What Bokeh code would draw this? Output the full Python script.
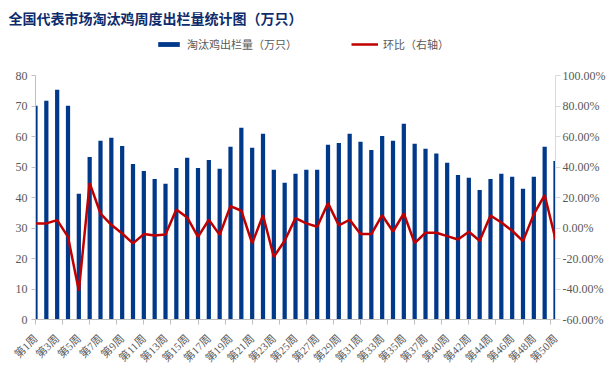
import numpy as np
from bokeh.plotting import figure
from bokeh.models import (Range1d, LinearAxis, FixedTicker, NumeralTickFormatter,
                          Legend, LegendItem, Title, ColumnDataSource)
from bokeh.embed import file_html
from bokeh.resources import INLINE

# ---- data ----
weeks = [f"第{i}周" for i in range(1, 39)] + [f"第{i}周" for i in range(40, 51)]
supply = [70.1, 71.7, 75.3, 70.1, 41.2, 53.3, 58.6, 59.6, 56.9, 51.0,
          48.7, 46.1, 44.5, 49.7, 53.0, 49.7, 52.3, 49.4, 56.6, 62.9,
          56.3, 60.9, 49.1, 44.8, 47.8, 49.1, 49.1, 57.3, 57.9, 60.9,
          58.3, 55.6, 60.2, 58.6, 64.2, 57.6, 56.0, 54.4, 51.4, 47.4,
          46.5, 42.5, 46.1, 47.8, 46.8, 42.9, 46.8, 56.6, 52.0]
ratio_pct = [3.0, 3.0, 5.2, -5.8, -41.2, 29.4, 9.5, 2.1, -3.6, -10.1,
             -4.0, -4.9, -4.2, 12.2, 6.9, -5.8, 5.4, -4.5, 14.4, 11.3,
             -10.1, 8.4, -18.9, -8.4, 6.5, 3.0, 0.8, 16.3, 1.7, 5.4,
             -4.0, -4.0, 8.4, -2.3, 9.5, -9.9, -3.1, -3.1, -5.3, -7.5,
             -2.5, -8.4, 8.2, 3.6, -1.8, -8.6, 9.1, 21.6, -7.3]
title_text = "全国代表市场淘汰鸡周度出栏量统计图（万只）"
bar_label = "淘汰鸡出栏量（万只）"
line_label = "环比（右轴）"

n = len(weeks)
xs = list(range(1, n + 1))
src = ColumnDataSource(dict(x=xs, week=weeks, supply=supply,
                            ratio=[v / 100.0 for v in ratio_pct]))

BAR = "#00388A"
RED = "#C00000"
GRAY_TXT = "#595959"
SERIF = "Liberation Serif, Noto Sans CJK SC"
CJK = "Noto Sans CJK SC"

W, H = 611, 378
B_LEFT, B_RIGHT, B_TOP, B_BOTTOM = 35, 56, 30, 59
AXIS_PX = 244  # pixel height of the 0..80 axis span
frame_h = H - B_TOP - B_BOTTOM
scale = frame_h / AXIS_PX
y_lo, y_hi = 0, 80
p_lo, p_hi = -0.6, 1.0

p = figure(width=W, height=H, output_backend="svg", toolbar_location=None,
           x_range=Range1d(1, n),
           y_range=Range1d(y_lo, y_lo + (y_hi - y_lo) * scale),
           min_border_left=B_LEFT, min_border_right=B_RIGHT,
           min_border_bottom=B_BOTTOM, min_border_top=B_TOP)
p.outline_line_color = None
p.grid.visible = False
p.background_fill_color = "white"
p.border_fill_color = "white"

p.extra_y_ranges = {"pct": Range1d(p_lo, p_lo + (p_hi - p_lo) * scale)}

bars = p.vbar(x="x", top="supply", width=0.39, source=src,
              fill_color=BAR, line_color=None)
line = p.line(x="x", y="ratio", source=src, y_range_name="pct",
              line_color=RED, line_width=2.5)

# x axis
xa = p.xaxis[0]
xa.ticker = FixedTicker(ticks=xs[::2], minor_ticks=list(np.arange(1, n, 2.5)))
xa.major_label_overrides = {x: w for x, w in zip(xs, weeks)}
xa.major_label_orientation = np.pi / 4
xa.major_label_text_font = SERIF
xa.major_label_text_font_size = "11px"
xa.major_label_text_color = GRAY_TXT
xa.major_label_standoff = 12
xa.major_tick_out = 0
xa.major_tick_in = 0
xa.minor_tick_out = 5
xa.minor_tick_in = 0
xa.minor_tick_line_color = "#BFBFBF"
xa.axis_line_color = "#BFBFBF"

# left axis
ya = p.yaxis[0]
ya.bounds = (y_lo, y_hi)
ya.ticker = FixedTicker(ticks=list(range(y_lo, y_hi + 1, 10)))
ya.major_label_text_font = SERIF
ya.major_label_text_font_size = "12px"
ya.major_label_text_color = GRAY_TXT
ya.major_tick_out = 4
ya.major_tick_in = 0
ya.minor_tick_out = 0
ya.minor_tick_in = 0
ya.major_label_standoff = 4
ya.axis_line_color = "#BFBFBF"
ya.major_tick_line_color = "#BFBFBF"

# right axis
ra = LinearAxis(y_range_name="pct", bounds=(p_lo, p_hi),
                ticker=FixedTicker(ticks=[round(v, 1) for v in np.arange(p_lo, p_hi + 0.01, 0.2)]),
                formatter=NumeralTickFormatter(format="0.00%"))
ra.major_label_text_font = SERIF
ra.major_label_text_font_size = "12px"
ra.major_label_text_color = GRAY_TXT
ra.major_tick_out = 5
ra.major_tick_in = 0
ra.minor_tick_out = 0
ra.minor_tick_in = 0
ra.major_label_standoff = 2
ra.axis_line_color = "#D9D9D9"
ra.major_tick_line_color = "#D9D9D9"
p.add_layout(ra, "right")

legend = Legend(items=[LegendItem(label=bar_label, renderers=[bars]),
                       LegendItem(label=line_label, renderers=[line])],
                orientation="horizontal", location=(120, 267),
                glyph_width=27, glyph_height=6, label_standoff=5, spacing=54,
                padding=0, margin=0, label_height=12,
                label_text_font=CJK, label_text_font_size="11px",
                label_text_color=GRAY_TXT,
                border_line_color=None, background_fill_alpha=0)
p.add_layout(legend, "center")

p.add_layout(Title(text=title_text, text_font=CJK, text_font_size="14px",
                   text_font_style="bold", text_color="#0E2C6B",
                   align="left", offset=-27, standoff=6), "above")

open("out.html", "w").write(file_html(p, INLINE))
